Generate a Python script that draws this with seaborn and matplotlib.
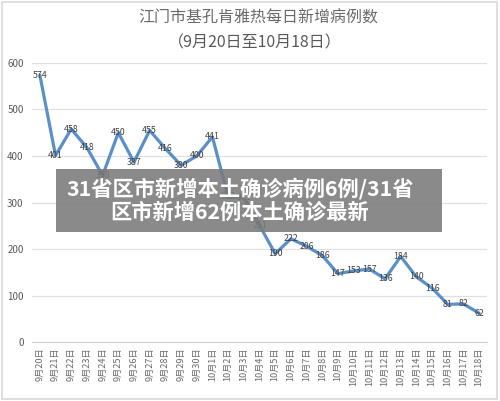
import numpy as np
import pandas as pd
import matplotlib
matplotlib.use('Agg')
import matplotlib.pyplot as plt
from matplotlib.patches import Rectangle
import seaborn as sns

# 每日新增病例数
dates = ['9月20日', '9月21日', '9月22日', '9月23日', '9月24日', '9月25日', '9月26日',
         '9月27日', '9月28日', '9月29日', '9月30日', '10月1日', '10月2日', '10月3日',
         '10月4日', '10月5日', '10月6日', '10月7日', '10月8日', '10月9日', '10月10日',
         '10月11日', '10月12日', '10月13日', '10月14日', '10月15日', '10月16日',
         '10月17日', '10月18日']
cases = [574, 401, 458, 418, 358, 450, 387, 455, 416, 380, 400, 441, 312, 311,
         251, 190, 222, 206, 186, 147, 153, 157, 136, 184, 140, 116, 81, 82, 62]
yticks = [0, 100, 200, 300, 400, 500, 600]

title = '江门市基孔肯雅热每日新增病例数'
subtitle = '（9月20日至10月18日）'
overlay = '31省区市新增本土确诊病例6例/31省\n区市新增62例本土确诊最新'

sns.set_style('white')
plt.rcParams['font.family'] = ['Noto Sans CJK SC', 'DejaVu Sans']

df = pd.DataFrame({'pos': np.arange(len(dates)), 'cases': cases})

fig = plt.figure(figsize=(5, 4.01), dpi=100)
ax = fig.add_axes([0.064, 0.147, 0.91, 0.696])

sns.lineplot(data=df, x='pos', y='cases', ax=ax, color='#5b8fc8', linewidth=2.3)

for x, y in zip(df['pos'], df['cases']):
    ax.text(x, y, str(y), ha='center', va='center', fontsize=6.3, color='#404040')

ax.set_xlim(-0.5, len(dates) - 0.5)
ax.set_ylim(0, 600)
ax.set_yticks(yticks)
ax.set_yticklabels([str(v) for v in yticks], fontsize=7, color='#595959')
ax.set_xticks(df['pos'])
ax.set_xticklabels(dates, rotation=90, fontsize=6.6, color='#6a6a6a')
ax.set_xticks(np.arange(-0.5, len(dates), 1), minor=True)
ax.tick_params(axis='x', which='major', length=0, pad=4)
ax.tick_params(axis='x', which='minor', length=4, color='#d0d0d0', width=0.8)
ax.tick_params(axis='y', length=0, pad=6)
ax.grid(axis='y', color='#e0e0e0', linewidth=0.9)
ax.set_axisbelow(True)
for s in ['top', 'right', 'left']:
    ax.spines[s].set_visible(False)
ax.spines['bottom'].set_color('#d0d0d0')
ax.set_xlabel('')
ax.set_ylabel('')

fig.text(0.516, 0.955, title, ha='center', va='center', fontsize=11.5, color='#6a6a6a')
fig.text(0.51, 0.893, subtitle, ha='center', va='center', fontsize=11.5, color='#595959')

# 外框
fig.patches.append(Rectangle((0.004, 0.004), 0.99, 0.99, transform=fig.transFigure,
                             fill=False, edgecolor='#d9d9d9', linewidth=1.2))

# 灰色遮罩条
fig.patches.append(Rectangle((0.112, 1 - 232 / 401), 0.771, 63 / 401, transform=fig.transFigure,
                             facecolor='#7a7a7a', alpha=0.88, edgecolor='none', zorder=5))
fig.text(0.48, 1 - 200 / 401, overlay, ha='center', va='center', fontsize=15.3,
         fontweight='bold', color='white', linespacing=1.15, zorder=6)

fig.savefig('out.png', dpi=100)
